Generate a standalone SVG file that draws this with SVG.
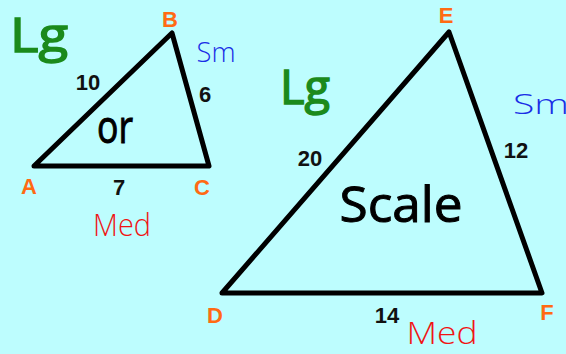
<svg xmlns="http://www.w3.org/2000/svg" width="566" height="354" viewBox="0 0 566 354">
<style>
.tri{fill:none;stroke:#000;stroke-width:5;stroke-linejoin:round;stroke-linecap:round}
.v{font-family:"Liberation Sans",Arial,sans-serif;font-weight:bold;font-size:22px;fill:#ff6a13;text-anchor:middle}
.n{font-family:"Liberation Sans",Arial,sans-serif;font-weight:bold;font-size:22px;fill:#111;text-anchor:middle}
.hw{font-family:"Open Sans","DejaVu Sans",sans-serif;text-anchor:middle}
.lg{fill:#1b8a1b;stroke:#1b8a1b;stroke-width:1.5;font-size:48px;font-weight:500}
.sm{fill:#1a2ee6;font-size:28px;font-weight:300}
.med{fill:#f01414;font-size:32px;font-weight:300}
.blk{fill:#000;stroke:#000;stroke-width:1;font-weight:500}
</style>
<rect width="566" height="354" fill="#bdfdfe"/>
<g id="connectors">
<polygon class="tri" points="34,166 172,33 209,166"/>
<polygon class="tri" points="222,293 449,32 542,293"/>
</g>
<g id="triangle-ABC">
<text class="v" x="170" y="27">B</text>
<text class="v" x="29" y="194">A</text>
<text class="v" x="202" y="195">C</text>
<text class="n" x="88" y="90">10</text>
<text class="n" x="205" y="102">6</text>
<text class="n" x="119" y="195">7</text>
<text class="hw lg" x="39" y="52" textLength="58" lengthAdjust="spacingAndGlyphs">Lg</text>
<text class="hw sm" x="216" y="62" textLength="39" lengthAdjust="spacingAndGlyphs">Sm</text>
<text class="hw blk" x="115" y="143" font-size="46" textLength="36" lengthAdjust="spacingAndGlyphs">or</text>
<text class="hw med" x="122" y="236" textLength="58" lengthAdjust="spacingAndGlyphs">Med</text>
</g>
<g id="triangle-DEF">
<text class="v" x="446" y="23">E</text>
<text class="v" x="215" y="323">D</text>
<text class="v" x="547" y="320">F</text>
<text class="n" x="310" y="166">20</text>
<text class="n" x="516" y="158">12</text>
<text class="n" x="387" y="323">14</text>
<text class="hw lg" x="305" y="104" textLength="50" lengthAdjust="spacingAndGlyphs">Lg</text>
<text class="hw sm" x="541" y="114" textLength="56" lengthAdjust="spacingAndGlyphs">Sm</text>
<text class="hw blk" x="401" y="222" font-size="50" textLength="123" lengthAdjust="spacingAndGlyphs">Scale</text>
<text class="hw med" x="442" y="344" textLength="71" lengthAdjust="spacingAndGlyphs">Med</text>
</g>
</svg>
